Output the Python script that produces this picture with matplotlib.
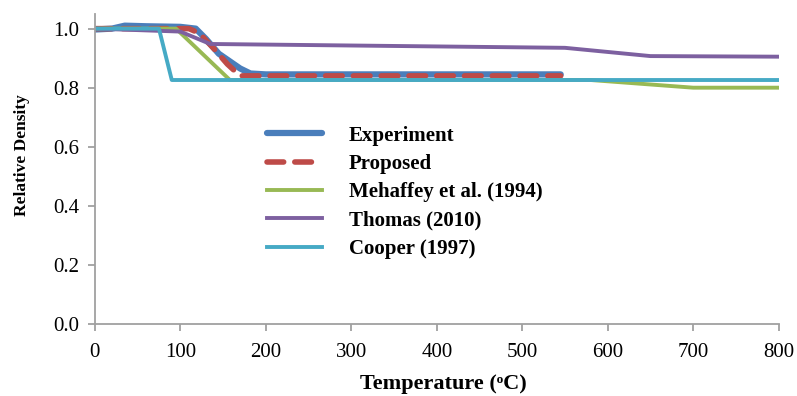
import matplotlib
matplotlib.use("Agg")
import matplotlib.pyplot as plt

# Temperature (°C) / relative density series
exp_t = [0, 20, 35, 60, 100, 118, 130, 145, 160, 170, 182, 200, 545]
exp_d = [0.997, 1.0, 1.01, 1.008, 1.006, 1.0, 0.965, 0.915, 0.885, 0.865, 0.848, 0.845, 0.845]

prop_t = [0, 110, 122, 140, 155, 170, 545]
prop_d = [1.0, 1.0, 0.985, 0.93, 0.88, 0.84, 0.84]

meh_t = [0, 95, 158, 580, 700, 800]
meh_d = [1.0, 1.0, 0.826, 0.826, 0.80, 0.80]

tho_t = [0, 100, 135, 550, 650, 800]
tho_d = [1.0, 0.99, 0.948, 0.935, 0.907, 0.905]

coo_t = [0, 75, 90, 800]
coo_d = [1.0, 1.0, 0.826, 0.826]

labels = ["Experiment", "Proposed", "Mehaffey et al. (1994)", "Thomas (2010)", "Cooper (1997)"]
x_ticks = [0, 100, 200, 300, 400, 500, 600, 700, 800]
y_ticks = [0.0, 0.2, 0.4, 0.6, 0.8, 1.0]

serif = ["Liberation Serif", "DejaVu Serif"]

fig = plt.figure(figsize=(7.97, 3.96), dpi=100)
ax = fig.add_axes([0.119, 0.182, 0.858, 0.783])

ax.plot(exp_t, exp_d, color="#4a7ebb", lw=4.5, solid_capstyle="round", label=labels[0])
ax.plot(prop_t, prop_d, color="#be4b48", lw=4, dashes=(3, 2), dash_capstyle="round", label=labels[1])
ax.plot(meh_t, meh_d, color="#98b954", lw=2.8, label=labels[2])
ax.plot(tho_t, tho_d, color="#7d60a0", lw=2.8, label=labels[3])
ax.plot(coo_t, coo_d, color="#46aac5", lw=2.8, label=labels[4])

ax.set_xlim(0, 800)
ax.set_ylim(0, 1.05)
ax.set_xticks(x_ticks)
ax.set_yticks(y_ticks)
ax.set_xticklabels([str(v) for v in x_ticks], family=serif, fontsize=15)
ax.set_yticklabels([f"{v:.1f}" for v in y_ticks], family=serif, fontsize=15)

for s in ("top", "right"):
    ax.spines[s].set_visible(False)
for s in ("left", "bottom"):
    ax.spines[s].set_color("#a0a0a0")
    ax.spines[s].set_linewidth(1.3)
ax.tick_params(axis="both", colors="#a0a0a0", labelcolor="black", length=5, width=1.3, pad=6)
ax.tick_params(axis="x", pad=9)

ax.set_xlabel("Temperature (\u1d52C)", family=serif, fontsize=16, fontweight="bold")
ax.xaxis.set_label_coords(0.51, -0.163)
ax.set_ylabel("Relative Density", family=serif, fontsize=12.5, fontweight="bold")
ax.yaxis.set_label_coords(-0.095, 0.545)

leg = ax.legend(loc="upper left", bbox_to_anchor=(0.225, 0.70), frameon=False,
                prop={"family": serif, "size": 15, "weight": "bold"},
                handlelength=2.6, handletextpad=1.3, labelspacing=0.4)

fig.savefig("out.png", dpi=100)
